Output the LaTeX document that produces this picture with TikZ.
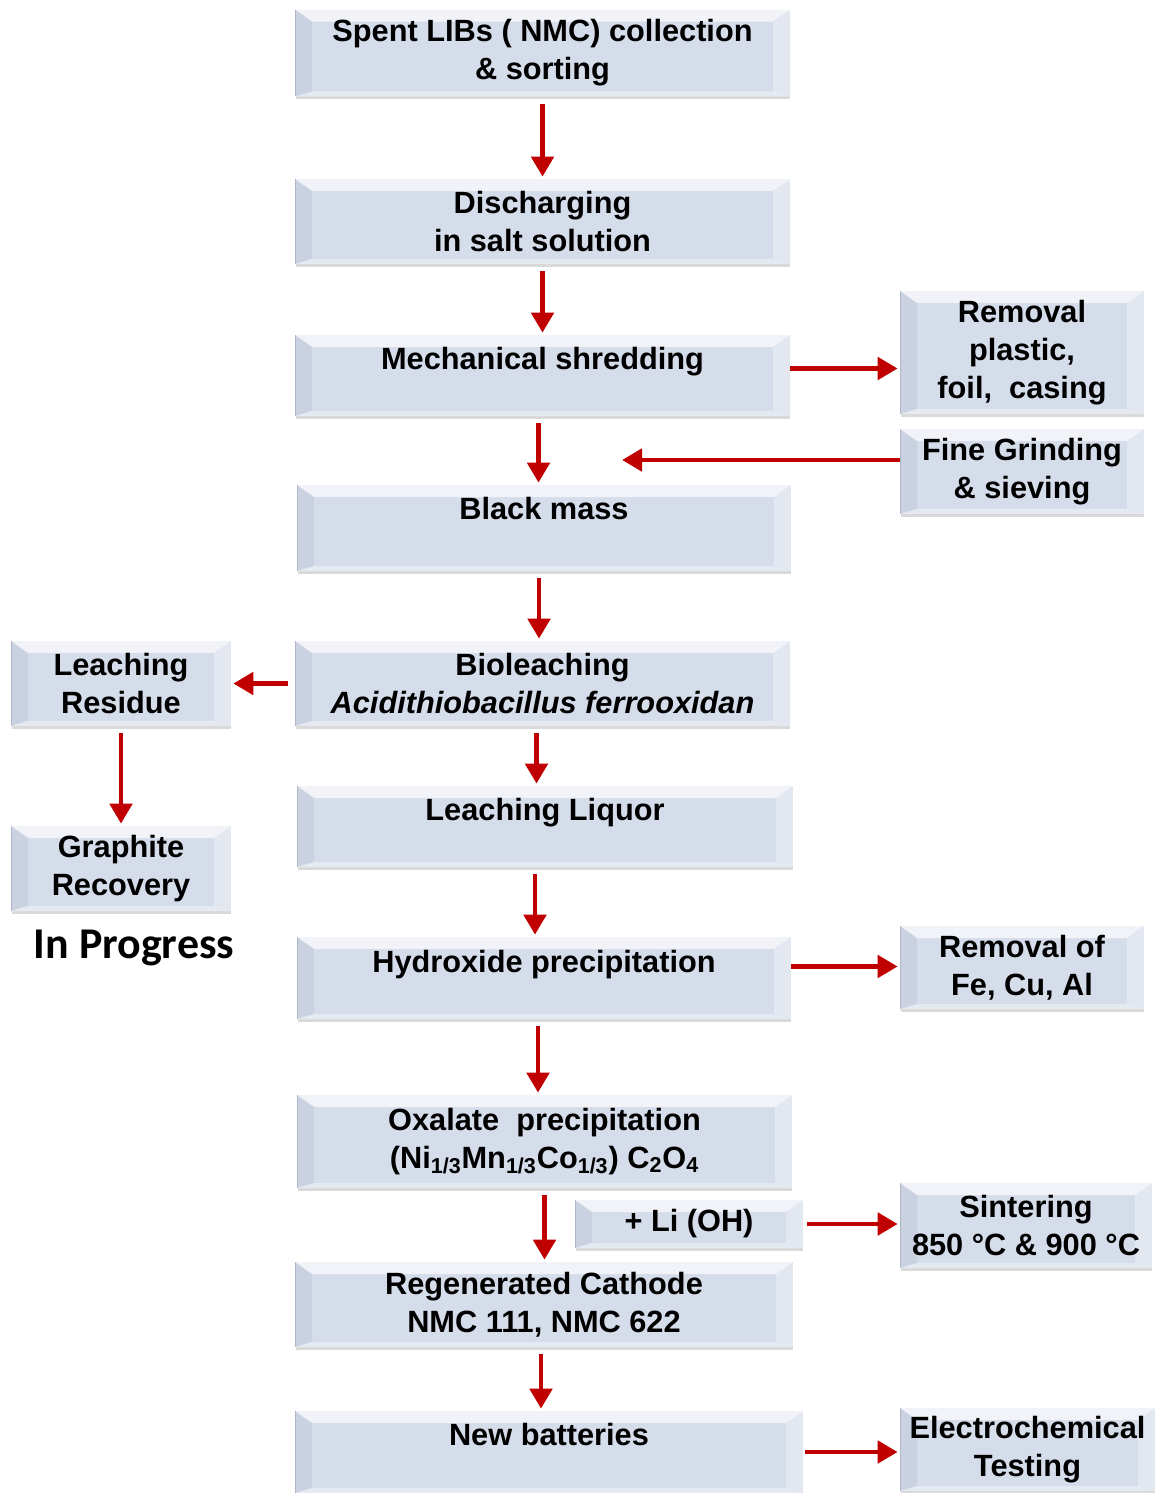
\documentclass[tikz,border=0pt]{standalone}
\usepackage{fontspec}
\setmainfont{Liberation Sans}
\newfontfamily\calibrifont{Carlito}
\usetikzlibrary{arrows.meta, positioning, calc, shadows}

\definecolor{boxface}{HTML}{D5DCEA}
\definecolor{boxlight}{HTML}{F6F8FB}
\definecolor{boxdark}{HTML}{8E98AD}
\definecolor{arrowred}{HTML}{C00000}
\newcommand{\bevs}{0.34cm}
\newcommand{\bevt}{0.24cm}
\newcommand{\bevb}{0.1cm}

\tikzset{
  stepbox/.style={rectangle, fill=boxface, inner sep=2pt, align=center,
    font=\bfseries\fontsize{17.5}{21.5}\selectfont,
    drop shadow={shadow xshift=0.01cm, shadow yshift=-0.06cm, opacity=0.3},
    path picture={
      \coordinate (pnw) at (path picture bounding box.north west);
      \coordinate (pse) at (path picture bounding box.south east);
      % bevel edges
      \fill[boxlight, opacity=0.85] (pnw) -- (pnw -| pse) -- ($(pnw -| pse)+(-\bevs,-\bevt)$) -- ($(pnw)+(\bevs,-\bevt)$) -- cycle;
      \fill[boxdark, opacity=0.14] (pnw) -- ($(pnw)+(\bevs,-\bevt)$) -- ($(pnw |- pse)+(\bevs,\bevb)$) -- (pnw |- pse) -- cycle;
      \fill[boxlight, opacity=0.4] (pnw -| pse) -- (pse) -- ($(pse)+(-\bevs,\bevb)$) -- ($(pnw -| pse)+(-\bevs,-\bevt)$) -- cycle;
      \fill[boxlight, opacity=0.5] (pnw |- pse) -- (pse) -- ($(pse)+(-\bevs,\bevb)$) -- ($(pnw |- pse)+(\bevs,\bevb)$) -- cycle;
      \draw[boxdark, opacity=0.45, line width=0.6pt] (pnw |- pse) -- (pnw);
    }},
  flowarrow/.style={draw=arrowred, line width=2.8pt,
    -{Triangle[length=0.4cm, width=0.44cm]}, shorten <=0.14cm, shorten >=0.04cm}
}

\begin{document}
\begin{tikzpicture}[x=0.02cm, y=-0.02cm]
\useasboundingbox (0,0) rectangle (1155,1493);

% main column
\node[stepbox, minimum width=9.9cm, minimum height=1.74cm] (spent) at (542.5,53) {Spent LIBs ( NMC) collection\\\& sorting};
\node[stepbox, minimum width=9.9cm, minimum height=1.7cm] (disch) at (542.5,221.5) {Discharging\\in salt solution};
\node[stepbox, minimum width=9.9cm, minimum height=1.62cm, text depth=0.68cm] (shred) at (542.5,375.5) {Mechanical shredding};
\node[stepbox, minimum width=9.88cm, minimum height=1.72cm, text depth=0.8cm] (black) at (544,528) {Black mass};
\node[stepbox, minimum width=9.9cm, minimum height=1.7cm] (bio) at (542.5,683.5) {Bioleaching\\\textit{Acidithiobacillus ferrooxidan}};
\node[stepbox, minimum width=9.92cm, minimum height=1.62cm, text depth=0.68cm] (liquor) at (545,826.5) {Leaching Liquor};
\node[stepbox, minimum width=9.88cm, minimum height=1.64cm, text depth=0.68cm] (hydrox) at (544,978) {Hydroxide precipitation};
\node[stepbox, minimum width=9.9cm, minimum height=1.86cm] (oxal) at (544.5,1141.5) {Oxalate~ precipitation\\(Ni\textsubscript{1/3}Mn\textsubscript{1/3}Co\textsubscript{1/3}) C\textsubscript{2}O\textsubscript{4}};
\node[stepbox, minimum width=4.56cm, minimum height=0.96cm] (lioh) at (689,1224) {+ Li (OH)};
\node[stepbox, minimum width=9.96cm, minimum height=1.7cm] (regen) at (544,1304.5) {Regenerated Cathode\\NMC 111, NMC 622};
\node[stepbox, minimum width=10.16cm, minimum height=1.64cm, text depth=0.72cm] (newbat) at (549,1452) {New batteries};

% side boxes
\node[stepbox, minimum width=4.88cm, minimum height=2.46cm] (plastic) at (1022,352.5) {Removal\\plastic,\\foil,~ casing};
\node[stepbox, minimum width=4.88cm, minimum height=1.7cm] (grind) at (1022,471.5) {Fine Grinding\\\& sieving};
\node[stepbox, minimum width=4.88cm, minimum height=1.66cm] (impur) at (1022,967.5) {Removal of\\Fe, Cu, Al};
\node[stepbox, minimum width=5.04cm, minimum height=1.7cm] (sinter) at (1026,1225.5) {Sintering\\850 °C \& 900 °C};
\node[stepbox, minimum width=5.1cm, minimum height=1.66cm] (echem) at (1027.5,1449.5) {Electrochemical\\Testing};
\node[stepbox, minimum width=4.4cm, minimum height=1.7cm] (residue) at (121,683.5) {Leaching\\Residue};
\node[stepbox, minimum width=4.4cm, minimum height=1.7cm] (graph) at (121,868.5) {Graphite\\Recovery};
\node[font=\calibrifont\bfseries\fontsize{25}{30}\selectfont] (prog) at (134,948) {In Progress};

\coordinate (gtip) at (620,460);

% connectors
\draw[flowarrow] (spent.south) -- (spent.south |- disch.north);
\draw[flowarrow] (disch.south) -- (disch.south |- shred.north);
\draw[flowarrow, shorten <=0pt] ([yshift=0.14cm]shred.east) -- ([yshift=0.14cm]shred.east -| plastic.west);
\draw[flowarrow] ([xshift=-0.08cm]shred.south) -- ([xshift=-0.08cm]shred.south |- black.north);
\draw[flowarrow, shorten <=0pt] (grind.west |- gtip) -- (gtip);
\draw[flowarrow] ([xshift=-0.1cm]black.south) -- ([xshift=-0.1cm]black.south |- bio.north);
\draw[flowarrow] (bio.west) -- (bio.west -| residue.east);
\draw[flowarrow] ([xshift=-0.12cm]bio.south) -- ([xshift=-0.12cm]bio.south |- liquor.north);
\draw[flowarrow] (residue.south) -- (graph.north);
\draw[flowarrow] ([xshift=-0.2cm]liquor.south) -- ([xshift=-0.2cm]liquor.south |- hydrox.north);
\draw[flowarrow, shorten <=0pt] ([yshift=0.02cm]impur.west -| hydrox.east) -- ([yshift=0.02cm]impur.west);
\draw[flowarrow] ([xshift=-0.12cm]hydrox.south) -- ([xshift=-0.12cm]hydrox.south |- oxal.north);
\draw[flowarrow] (oxal.south) -- (oxal.south |- regen.north);
\draw[flowarrow, shorten <=0.08cm] (lioh.east) -- (lioh.east -| sinter.west);
\draw[flowarrow] ([xshift=-0.06cm]regen.south) -- ([xshift=-0.06cm]regen.south |- newbat.north);
\draw[flowarrow, shorten <=0.04cm] (newbat.east) -- (newbat.east -| echem.west);

\end{tikzpicture}
\end{document}
